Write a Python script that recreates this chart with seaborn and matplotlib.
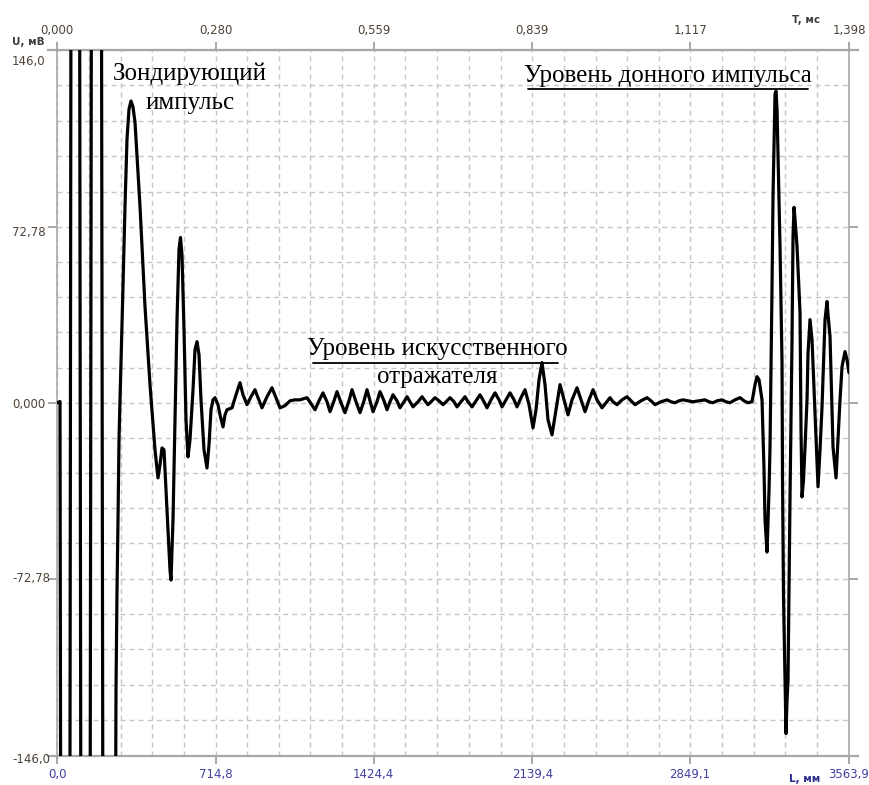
import numpy as np
import pandas as pd
import seaborn as sns
import matplotlib.pyplot as plt
from matplotlib import transforms
from matplotlib.lines import Line2D

# ---------------- data ----------------
distance_mm = [
    0, 13.5, 40, 81, 128, 176, 225,
    265.5, 270, 274.5, 279, 283.5, 294.75, 306, 315, 324, 333, 342, 351, 373.5, 396,
    418.5, 441, 454.5, 463.5, 472.5, 481.5, 490.5, 499.5, 508.5, 513, 522, 531, 540,
    549, 555.75, 562.5, 571.5, 580.5, 589.5, 598.5, 612, 621, 630, 639, 648, 661.5,
    675, 684, 693, 702, 711, 724.5, 733.5, 747, 756, 765, 787.5, 805.5, 823.5, 837,
    855, 873, 891, 904.5, 922.5, 945, 967.5, 985.5, 1003.5, 1026, 1048.5, 1071,
    1093.5, 1125, 1143, 1161, 1179, 1197, 1215, 1228.5, 1246.5, 1260, 1278, 1296,
    1314, 1327.5, 1345.5, 1363.5, 1381.5, 1395, 1408.5, 1422, 1440, 1453.5, 1471.5,
    1485, 1498.5, 1512, 1530, 1543.5, 1561.5, 1575, 1588.5, 1602, 1624.5, 1642.5,
    1656, 1669.5, 1687.5, 1701, 1719, 1737, 1755, 1768.5, 1786.5, 1800, 1818, 1836,
    1849.5, 1867.5, 1885.5, 1903.5, 1921.5, 1935, 1953, 1971, 1989, 2002.5, 2020.5,
    2038.5, 2056.5, 2070, 2088, 2106, 2124, 2142, 2155.5, 2169, 2182.5, 2196, 2209.5,
    2227.5, 2245.5, 2263.5, 2281.5, 2299.5, 2317.5, 2340, 2358, 2376, 2394, 2412,
    2430, 2452.5, 2470.5, 2488.5, 2502, 2520, 2542.5, 2565, 2583, 2601, 2628, 2655,
    2673, 2691, 2718, 2745, 2763, 2781, 2799, 2817, 2839.5, 2862, 2889, 2916, 2934,
    2952, 2970, 2992.5, 3010.5, 3028.5, 3051, 3073.5, 3091.5, 3109.5, 3127.5, 3141,
    3150, 3159, 3172.5, 3181.5, 3186, 3195, 3204, 3208.5, 3217.5, 3222, 3231,
    3235.5, 3240, 3244.5, 3253.5, 3262.5, 3264.75, 3269.25, 3276, 3280.5, 3285,
    3289.5, 3298.5, 3307.5, 3312, 3316.5, 3321, 3330, 3343.5, 3348, 3352.5, 3359.25,
    3366, 3375, 3379.5, 3388.5, 3397.5, 3411, 3420, 3424.5, 3433.5, 3442.5, 3456,
    3465, 3469.5, 3478.5, 3492, 3505.5, 3514.5, 3523.5, 3532.5, 3546, 3555, 3563.9,
]
amplitude_mV = [
    0, 0.5, -1500, 1500, -1500, 1500, -1200,
    -119.0, -77.6, -48.5, -15.3, 1.2, 40.2, 81.3, 109.1, 121.5, 124.9, 122.4, 116.1, 81.3, 39.8,
    7.5, -19.5, -31.1, -25.7, -18.7, -19.5, -36.1, -52.7, -69.3, -73.4, -48.5, -7.1, 34.4,
    63.5, 68.4, 61.0, 30.3, -7.1, -22.4, -15.3, 5.4, 22.0, 25.3, 19.9, 1.2, -19.5,
    -27.0, -17.4, -2.9, 1.2, 2.1, -0.8, -5.0, -10.0, -5.0, -2.9, -2.1, 3.3, 8.3, 3.3,
    -0.8, 2.5, 5.4, 2.1, -2.1, 2.5, 6.2, 2.1, -2.1, -1.2, 0.8, 1.2,
    1.2, 2.1, -0.4, -2.9, 0.8, 4.1, 0.4, -3.7, 0.8, 4.6, 0.0, -4.1,
    0.8, 5.4, 0.4, -4.1, 0.8, 5.4, 0.8, -3.7, 0.4, 4.6, 0.8,
    -2.9, 0.4, 3.3, 0.8, -2.1, 0.4, 2.5, 0.4, -1.7, 0.4, 2.5,
    0.8, -0.8, 0.8, 2.1, 0.8, -0.8, 0.8, 2.1, 0.4, -1.7, 0.4, 2.5,
    0.4, -1.7, 0.8, 3.3, 0.4, -2.1, 1.2, 4.1, 1.2, -1.7, 1.2,
    4.1, 1.2, -1.7, 2.1, 5.4, -0.8, -10.4, -2.9, 9.5, 16.6, 7.5, -7.1,
    -13.3, -2.9, 7.5, 1.2, -5.0, 1.2, 6.2, 1.2, -3.7, 1.2, 5.4,
    1.2, -2.1, 0.0, 2.1, 0.4, -0.8, 1.2, 2.5, 0.8, -0.8, 0.8, 2.1,
    0.8, -0.8, 0.4, 1.2, 0.4, 0.0, 0.8, 1.2, 0.8, 0.4, 0.8, 1.2, 0.4,
    0.0, 0.8, 1.2, 0.4, 0.0, 1.2, 2.1, 0.8, 0.0, 0.4, 7.5,
    10.8, 9.5, 1.2, -27.8, -48.5, -61.8, -36.1, -18.3, 48.1, 85.5, 127.8,
    129.0, 121.5, 102.0, 64.7, 16.6, -31.9, -80.5, -114.9, -136.9, -123.2,
    -114.9, -39.0, 26.1, 68.9, 80.9, 75.9, 64.7, 37.3, -11.2, -39.0, -31.9,
    -18.3, 1.2, 20.7, 34.4, 26.1, -4.1, -23.6, -34.8, -19.5, -1.7, 34.4,
    41.9, 36.5, 27.4, -18.3, -31.1, -15.3, 1.2, 14.9, 21.2, 17.8, 12.4,
]

x_tick_values = [0.0, 714.8, 1424.4, 2139.4, 2849.1, 3563.9]
x_tick_labels = ["0,0", "714,8", "1424,4", "2139,4", "2849,1", "3563,9"]
time_tick_labels = ["0,000", "0,280", "0,559", "0,839", "1,117", "1,398"]
y_tick_values = [-146.0, -72.78, 0.0, 72.78, 146.0]
y_tick_labels = ["-146,0", "-72,78", "0,000", "72,78", "146,0"]

# ---------------- styling ----------------
sns.set_theme(style="white")
plt.rcParams["font.family"] = ["DejaVu Sans"]

W, H = 869, 785
fig = plt.figure(figsize=(W / 100, H / 100), dpi=100)
fig.patch.set_facecolor("white")
ax = fig.add_axes([57 / W, 1 - 755.5 / H, 792 / W, 705.5 / H])
ax.set_facecolor("white")

df = pd.DataFrame({"L": distance_mm, "U": amplitude_mV})
sns.lineplot(data=df, x="L", y="U", ax=ax, color="black", lw=2.3,
             estimator=None, sort=False, zorder=3)

ax.set_xlim(0, 3563.9)
ax.set_ylim(-146, 146)
ax.set_xlabel("")
ax.set_ylabel("")

def minors(vals):
    out = []
    for a, b in zip(vals[:-1], vals[1:]):
        out += list(np.linspace(a, b, 6)[1:-1])
    return out

ax.set_xticks(x_tick_values)
ax.set_xticklabels(x_tick_labels)
ax.set_xticks(minors(x_tick_values), minor=True)
ax.set_yticks(y_tick_values)
ax.set_yticks(minors(y_tick_values), minor=True)

grid_col = "#c6c6c6"
ax.grid(True, which="both", linestyle=(0, (3.5, 3)), color=grid_col, lw=1.0)
ax.set_axisbelow(True)

spine_col = "#a8a8a8"
tick_col = "#a0a0a0"
label_brown = "#4e4236"
label_blue = "#4040a4"

ax.tick_params(axis="x", which="major", bottom=True, top=False, direction="out",
               length=6.0, width=1.3, color=tick_col, labelsize=8.5,
               labelcolor=label_blue, pad=3)
ax.tick_params(axis="y", which="major", left=True, right=True, direction="out",
               length=6.5, width=1.3, color=tick_col, labelleft=False)
ax.tick_params(which="minor", length=0)

for side in ["top", "bottom"]:
    ax.spines[side].set_color(spine_col)
    ax.spines[side].set_linewidth(1.6)
    ax.spines[side].set_bounds(-40.5, 3604.4)
for side in ["left", "right"]:
    ax.spines[side].set_color(spine_col)
    ax.spines[side].set_linewidth(1.2)

sec = ax.secondary_xaxis("top")
sec.set_xticks(x_tick_values)
sec.set_xticklabels(time_tick_labels)
sec.tick_params(axis="x", direction="out", length=6.0, width=1.3, color=tick_col,
                labelsize=8.5, labelcolor=label_brown, pad=3)
sec.spines["top"].set_visible(False)

# y tick labels, left aligned at the figure margin
y_offsets_px = [-4, 0, -2, -6, -12]
for val, lab, off in zip(y_tick_values, y_tick_labels, y_offsets_px):
    tr = transforms.blended_transform_factory(fig.transFigure, ax.transData)
    tr = tr + transforms.ScaledTranslation(0, off / 100, fig.dpi_scale_trans)
    ax.text(12 / W, val, lab, transform=tr, ha="left", va="center",
            fontsize=8.5, color=label_brown, clip_on=False)

# axis unit labels
fig.text(28 / W, 1 - 42 / H, "U, мВ", ha="center", va="center", fontsize=7.5,
         fontweight="bold", color="#3c3c3c")
fig.text(806 / W, 1 - 20 / H, "T, мс", ha="center", va="center", fontsize=7.5,
         fontweight="bold", color="#3c3c3c")
fig.text(805 / W, 1 - 784 / H, "L, мм", ha="center", va="bottom", fontsize=7.5,
         fontweight="bold", color="#2c2c8c")

# annotations
serif = ["Liberation Serif", "DejaVu Serif"]
fs = 18
def ftext(x, y, s):
    fig.text(x / W, 1 - y / H, s, ha="center", va="baseline", fontsize=fs,
             family=serif, color="black")

ftext(190, 80, "Зондирующий")
ftext(190, 109, "импульс")
ftext(668, 82, "Уровень донного импульса")
ftext(437, 355, "Уровень искусственного")
ftext(437, 383, "отражателя")

fig.add_artist(Line2D([528 / W, 808 / W], [1 - 89 / H, 1 - 89 / H],
                      transform=fig.transFigure, color="black", lw=1.3))
fig.add_artist(Line2D([313 / W, 558 / W], [1 - 362.5 / H, 1 - 362.5 / H],
                      transform=fig.transFigure, color="black", lw=1.3))

fig.savefig("out.png", dpi=100, facecolor="white")
